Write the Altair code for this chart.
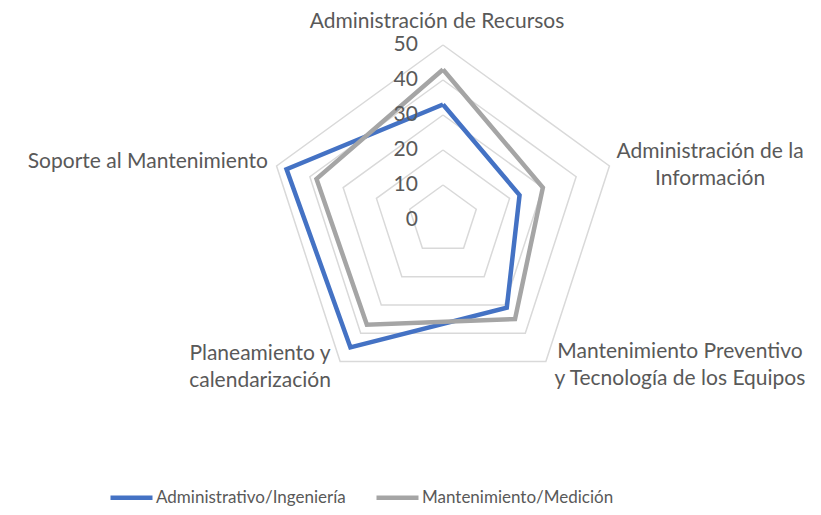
import altair as alt
import pandas as pd

categories = [
    "Administración de Recursos",
    "Administración de la Información",
    "Mantenimiento Preventivo y Tecnología de los Equipos",
    "Planeamiento y calendarización",
    "Soporte al Mantenimiento",
]
label_lines = [
    "Administración de Recursos",
    "Administración de la\nInformación",
    "Mantenimiento Preventivo\ny Tecnología de los Equipos",
    "Planeamiento y\ncalendarización",
    "Soporte al Mantenimiento",
]
series_names = ["Administrativo/Ingeniería", "Mantenimiento/Medición"]
admin_vals = [33, 23, 31, 45, 47]
mant_vals = [43, 30, 35, 37, 38]
ticks = [0, 10, 20, 30, 40, 50]
colors = ["#4472C4", "#A5A5A5"]

FONT = "Lato"
FS = 21
TXT = "#595959"
N = len(categories)

rows = []
for s, vals in zip(series_names, [admin_vals, mant_vals]):
    for k in range(N + 1):
        rows.append({"series": s, "idx": k % N, "ord": k, "value": vals[k % N]})
series_df = pd.DataFrame(rows)

grid_rows = []
for t in ticks[1:]:
    for k in range(N + 1):
        grid_rows.append({"level": t, "idx": k % N, "ord": k, "value": t})
grid_df = pd.DataFrame(grid_rows)

tick_df = pd.DataFrame({"value": ticks, "idx": [0] * len(ticks), "label": [str(t) for t in ticks]})


def polar_tf(ch):
    return ch.transform_calculate(
        ang="PI/2 - datum.idx*2*PI/%d" % N
    ).transform_calculate(
        px="datum.value*cos(datum.ang)", py="datum.value*sin(datum.ang)"
    )


xs = alt.Scale(domain=[-124.2857, 105.7143], nice=False, zero=False)
ys = alt.Scale(domain=[-82, 60.5714], nice=False, zero=False)
X = alt.X("px:Q", scale=xs, axis=None)
Y = alt.Y("py:Q", scale=ys, axis=None)

grid = polar_tf(alt.Chart(grid_df)).mark_line(color="#D9D9D9", strokeWidth=1.5).encode(
    x=X, y=Y, detail="level:N", order="ord:Q"
)

cscale = alt.Scale(domain=series_names, range=colors)
layers = [grid]
for s in series_names:
    layers.append(
        polar_tf(alt.Chart(series_df[series_df.series == s])).mark_line(strokeWidth=4.5).encode(
            x=X, y=Y, order="ord:Q",
            color=alt.Color("series:N", scale=cscale, title=None,
                            legend=alt.Legend(orient="none", legendX=100, legendY=466,
                                              direction="horizontal", symbolType="stroke",
                                              symbolSize=1764, symbolStrokeWidth=4.5,
                                              labelFont=FONT, labelFontSize=17, labelColor=TXT,
                                              labelLimit=500,
                                              columnPadding=21, labelOffset=1)),
        )
    )

tick_text = polar_tf(alt.Chart(tick_df)).mark_text(
    align="right", baseline="middle", dx=-25, font=FONT, fontSize=21, color=TXT
).encode(x=X, y=Y, text="label:N")
layers.append(tick_text)

LR = 52
label_style = [
    dict(align="center", dx=-6, dy=-10),
    dict(align="center", dx=94, dy=-6),
    dict(align="center", dx=130, dy=-9),
    dict(align="center", dx=-76, dy=-7),
    dict(align="right", dx=-2, dy=4),
]
for i, (lab, st) in enumerate(zip(label_lines, label_style)):
    d = pd.DataFrame({"idx": [i], "value": [LR], "label": [lab]})
    layers.append(
        polar_tf(alt.Chart(d)).mark_text(
            baseline="alphabetic", lineBreak="\n", lineHeight=27,
            font=FONT, fontSize=FS, color=TXT, **st
        ).encode(x=X, y=Y, text="label:N")
    )

chart = alt.layer(*layers).properties(
    width=805, height=499, padding=0, autosize=alt.AutoSizeParams(type="none")
).configure_view(stroke=None)

chart.save("out.html", embed_options={"renderer": "svg", "actions": False})
